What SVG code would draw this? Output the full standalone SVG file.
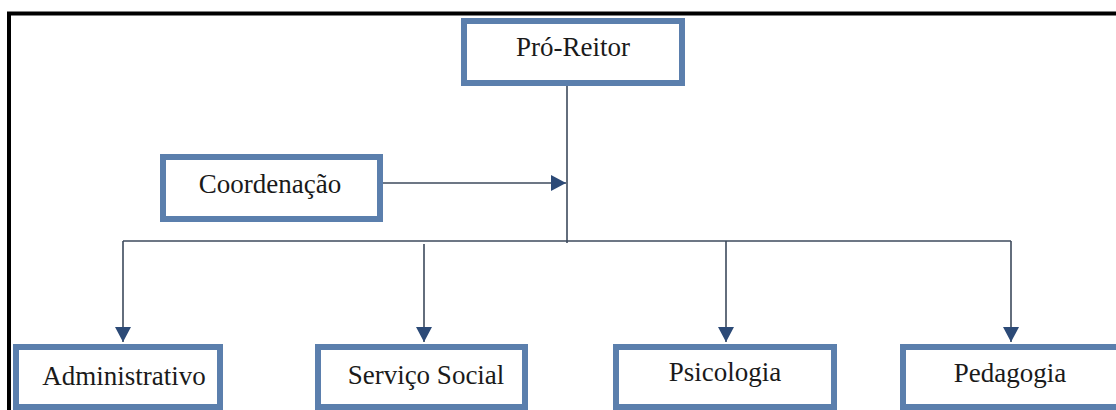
<svg xmlns="http://www.w3.org/2000/svg" width="1116" height="410" viewBox="0 0 1116 410">
<style>
.box{fill:#ffffff;stroke:#5b7fad;stroke-width:6}
.lbl{font-family:'Liberation Serif','DejaVu Serif',serif;font-size:27px;fill:#1a1a1a;text-anchor:middle}
.ln{stroke:#3d4a5c;stroke-width:1.6;fill:none}
</style>
<defs>
<marker id="ah" markerWidth="16" markerHeight="16" refX="15" refY="8" orient="auto" markerUnits="userSpaceOnUse" viewBox="0 0 16 16">
<path d="M0,0 L15,8 L0,16 Z" fill="#2c4a77"/>
</marker>
</defs>
<rect width="1116" height="410" fill="#ffffff"/>
<path d="M9,410 V13.5 H1116" fill="none" stroke="#000000" stroke-width="4"/>
<g id="connectors">
<path class="ln" d="M567,86 V243"/>
<path class="ln" d="M383,183 H566" marker-end="url(#ah)"/>
<path class="ln" d="M123,241 H1011"/>
<path class="ln" d="M123,241 V342" marker-end="url(#ah)"/>
<path class="ln" d="M424,244 V342" marker-end="url(#ah)"/>
<path class="ln" d="M726,241 V342" marker-end="url(#ah)"/>
<path class="ln" d="M1011,241 V342" marker-end="url(#ah)"/>
</g>
<g id="pro-reitor">
<rect class="box" x="464" y="21" width="218" height="62"/>
<text class="lbl" x="573" y="56">Pró-Reitor</text>
</g>
<g id="coordenacao">
<rect class="box" x="163" y="157" width="217" height="62"/>
<text class="lbl" x="270" y="193">Coordenação</text>
</g>
<g id="administrativo">
<rect class="box" x="16" y="347" width="204" height="60"/>
<text class="lbl" x="124" y="385">Administrativo</text>
</g>
<g id="servico-social">
<rect class="box" x="318" y="347" width="207" height="60"/>
<text class="lbl" x="426" y="384">Serviço Social</text>
</g>
<g id="psicologia">
<rect class="box" x="616" y="347" width="218" height="60"/>
<text class="lbl" x="725" y="381">Psicologia</text>
</g>
<g id="pedagogia">
<rect class="box" x="903" y="347" width="220" height="60"/>
<text class="lbl" x="1010" y="382">Pedagogia</text>
</g>
</svg>
